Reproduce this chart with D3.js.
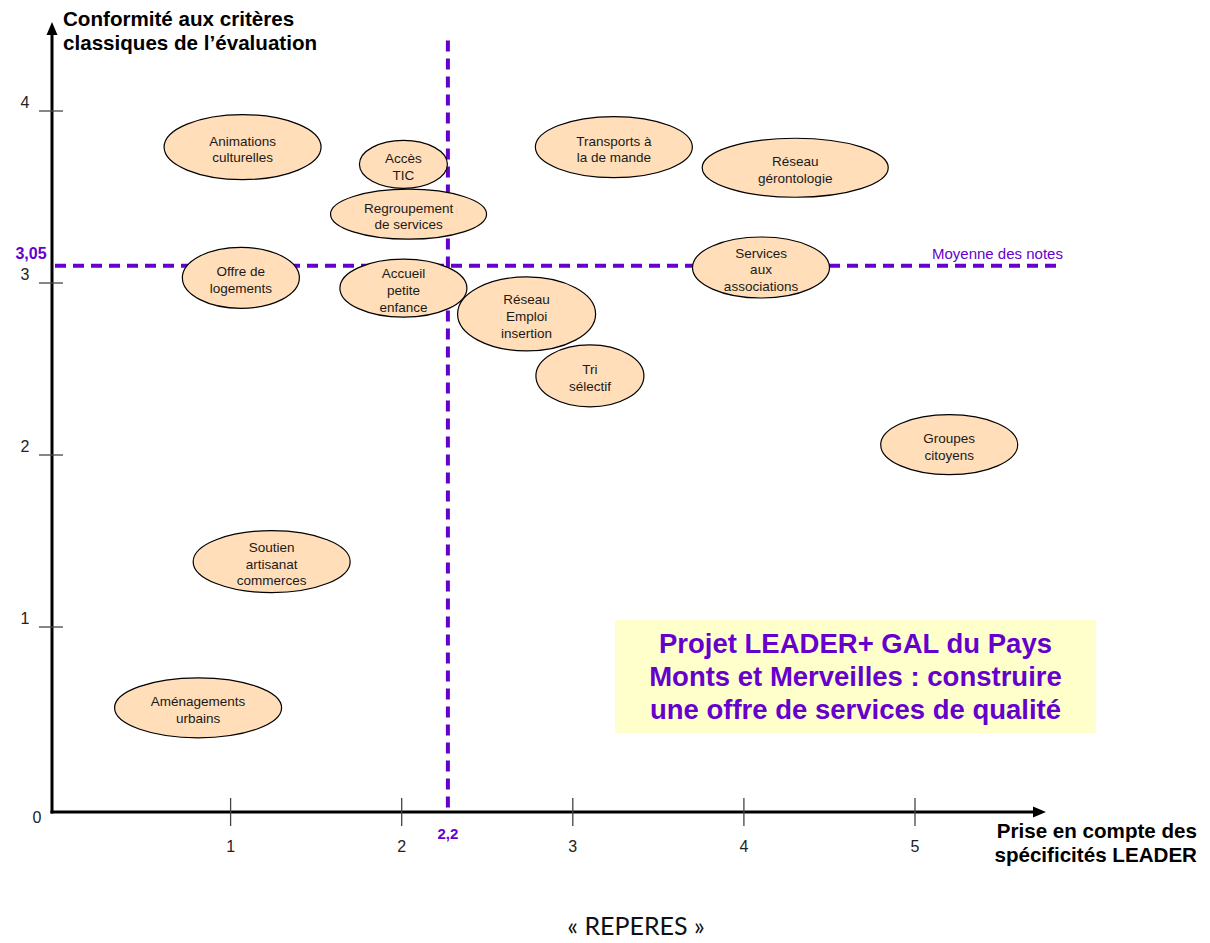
<!DOCTYPE html>
<html>
<head>
<meta charset="utf-8">
<script src="https://cdn.jsdelivr.net/npm/d3@7"></script>
<style>
  body { margin: 0; background: #fff; }
  svg { display: block; font-family: Arial, "Liberation Sans", sans-serif; }
</style>
</head>
<body>
<div id="chart"></div>
<script>
// project labels (one entry per line of text in the bubble)
const projects = [
  ["Animations", "culturelles"],
  ["Accès", "TIC"],
  ["Regroupement", "de services"],
  ["Offre de", "logements"],
  ["Accueil", "petite", "enfance"],
  ["Transports à", "la de mande"],
  ["Réseau", "gérontologie"],
  ["Services", "aux", "associations"],
  ["Réseau", "Emploi", "insertion"],
  ["Tri", "sélectif"],
  ["Groupes", "citoyens"],
  ["Soutien", "artisanat", "commerces"],
  ["Aménagements", "urbains"]
];
// x : prise en compte des spécificités LEADER
const leaderScore = [1.07, 2.01, 2.04, 1.06, 2.01, 3.24, 4.30, 4.10, 2.73, 3.10, 5.20, 1.24, 0.81];
// y : conformité aux critères classiques
const evalScore = [3.79, 3.69, 3.40, 3.03, 2.97, 3.79, 3.67, 3.09, 2.82, 2.46, 2.06, 1.38, 0.53];

const xTicks = [1, 2, 3, 4, 5];
const yTicks = [1, 2, 3, 4];
const refX = 2.27, refXLabel = "2,2";
const refY = 3.10, refYLabel = "3,05";

// bubble shapes (style only)
const bubbleRx = [78.5, 44, 78, 58.5, 63.5, 78.5, 93, 68.5, 69, 54, 68.5, 78.5, 83.5];
const bubbleRy = [32.5, 24, 25, 30.5, 29, 30.5, 29.5, 30.5, 37, 31, 30, 31, 30];

const width = 1210, height = 943;
const purple = "#6600cc";
const ox = 52, oy = 812;

const svg = d3.select("#chart")
  .append("svg")
  .attr("width", width)
  .attr("height", height);

const x = d3.scaleLinear().domain([0, 5]).range([59.5, 915]);
const y = d3.scaleLinear().domain([0, 4]).range([799, 111]);

// reference lines
svg.append("line")
  .attr("x1", ox + 3).attr("x2", x(5.83))
  .attr("y1", y(refY)).attr("y2", y(refY))
  .attr("stroke", purple).attr("stroke-width", 4)
  .attr("stroke-dasharray", "11,7");

svg.append("line")
  .attr("x1", x(refX)).attr("x2", x(refX))
  .attr("y1", y(4.41)).attr("y2", oy - 4)
  .attr("stroke", purple).attr("stroke-width", 4)
  .attr("stroke-dasharray", "11,7");

svg.append("text")
  .attr("x", 932).attr("y", y(refY) - 7)
  .attr("fill", purple).attr("font-size", 15)
  .text("Moyenne des notes");

svg.append("text")
  .attr("x", 31).attr("y", y(refY) - 7)
  .attr("text-anchor", "middle")
  .attr("fill", purple).attr("font-size", 16).attr("font-weight", "bold")
  .text(refYLabel);

svg.append("text")
  .attr("x", x(refX)).attr("y", oy + 27)
  .attr("text-anchor", "middle")
  .attr("fill", purple).attr("font-size", 15).attr("font-weight", "bold")
  .text(refXLabel);

// axes
svg.append("line")
  .attr("x1", ox).attr("x2", ox)
  .attr("y1", oy + 1.5).attr("y2", 32)
  .attr("stroke", "#000").attr("stroke-width", 3);
svg.append("path")
  .attr("d", `M${ox - 5.5},35L${ox},22L${ox + 5.5},35Z`)
  .attr("fill", "#000");

svg.append("line")
  .attr("x1", ox - 1.5).attr("x2", 1036)
  .attr("y1", oy).attr("y2", oy)
  .attr("stroke", "#000").attr("stroke-width", 3);
svg.append("path")
  .attr("d", `M1033,${oy - 5.5}L1046,${oy}L1033,${oy + 5.5}Z`)
  .attr("fill", "#000");

svg.append("g")
  .selectAll("line")
  .data(yTicks)
  .join("line")
  .attr("x1", ox - 13).attr("x2", ox + 11)
  .attr("y1", d => y(d)).attr("y2", d => y(d))
  .attr("stroke", "#444").attr("stroke-width", 1.3);

svg.append("g")
  .selectAll("text")
  .data(yTicks)
  .join("text")
  .attr("x", 25).attr("y", d => y(d) - 3)
  .attr("text-anchor", "middle")
  .attr("font-size", 16).attr("fill", "#222")
  .text(d => d);

svg.append("g")
  .selectAll("line")
  .data(xTicks)
  .join("line")
  .attr("x1", d => x(d)).attr("x2", d => x(d))
  .attr("y1", oy - 14).attr("y2", oy + 14)
  .attr("stroke", "#444").attr("stroke-width", 1.3);

svg.append("g")
  .selectAll("text")
  .data(xTicks)
  .join("text")
  .attr("x", d => x(d)).attr("y", oy + 40)
  .attr("text-anchor", "middle")
  .attr("font-size", 16).attr("fill", "#222")
  .text(d => d);

svg.append("text")
  .attr("x", 37).attr("y", oy + 11)
  .attr("text-anchor", "middle")
  .attr("font-size", 16).attr("fill", "#222")
  .text("0");

// axis titles
const yTitle = svg.append("text")
  .attr("font-size", 20.6).attr("font-weight", "bold");
yTitle.append("tspan").attr("x", 63).attr("y", 26).text("Conformité aux critères");
yTitle.append("tspan").attr("x", 63).attr("y", 50).text("classiques de l’évaluation");

const xTitle = svg.append("text")
  .attr("font-size", 20.6).attr("font-weight", "bold")
  .attr("text-anchor", "end");
xTitle.append("tspan").attr("x", 1197).attr("y", 838).text("Prise en compte des");
xTitle.append("tspan").attr("x", 1197).attr("y", 862).text("spécificités LEADER");

// bubbles
const bubbles = svg.append("g")
  .selectAll("g")
  .data(projects.map((lines, i) => ({ lines, x: leaderScore[i], y: evalScore[i], i })))
  .join("g")
  .attr("transform", d => `translate(${x(d.x)},${y(d.y)})`);

bubbles.append("ellipse")
  .attr("rx", d => bubbleRx[d.i])
  .attr("ry", d => bubbleRy[d.i])
  .attr("fill", "#ffdeb9")
  .attr("stroke", "#000")
  .attr("stroke-width", 1.2);

bubbles.append("text")
  .attr("text-anchor", "middle")
  .attr("font-size", 13.5)
  .attr("fill", "#1a1a1a")
  .selectAll("tspan")
  .data(d => d.lines.map((t, k) => ({ t, k, n: d.lines.length })))
  .join("tspan")
  .attr("x", 0)
  .attr("y", d => (d.k - (d.n - 1) / 2) * 16.7 + 6.9)
  .text(d => d.t);

// title box
const box = svg.append("g");
box.append("rect")
  .attr("x", 615).attr("y", 620)
  .attr("width", 481).attr("height", 113)
  .attr("fill", "#ffffcc");
box.append("text")
  .attr("text-anchor", "middle")
  .attr("font-size", 27.5).attr("font-weight", "bold")
  .attr("fill", purple)
  .selectAll("tspan")
  .data(["Projet LEADER+ GAL du Pays", "Monts et Merveilles : construire", "une offre de services de qualité"])
  .join("tspan")
  .attr("x", 855.5)
  .attr("y", (d, i) => 653 + i * 33)
  .text(d => d);

svg.append("text")
  .attr("x", 636).attr("y", 935)
  .attr("text-anchor", "middle")
  .attr("font-family", "Lato, 'Open Sans', sans-serif")
  .attr("font-size", 25)
  .attr("fill", "#111")
  .text("« REPERES »");
</script>
</body>
</html>
